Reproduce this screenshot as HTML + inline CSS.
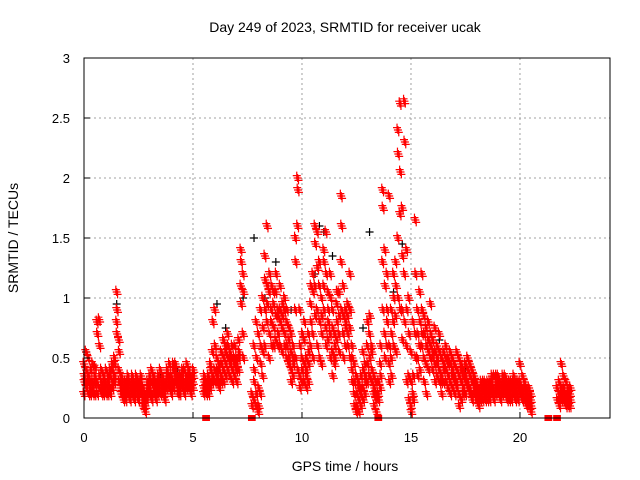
<!DOCTYPE html>
<html><head><meta charset="utf-8"><style>
body{margin:0;background:#fff}
svg{display:block;font-family:"Liberation Sans",sans-serif}
</style></head><body>
<svg id="chart" width="640" height="480">
<text x="345" y="32" font-size="14" text-anchor="middle">Day 249 of 2023, SRMTID for receiver ucak</text>
<text x="345" y="471" font-size="14" text-anchor="middle">GPS time / hours</text>
<text transform="translate(18,238) rotate(-90)" font-size="14" text-anchor="middle">SRMTID / TECUs</text>
<g id="grid"></g><g id="marks"></g><g id="axes"></g>
</svg>
<script>
const xTicks=[0,5,10,15,20];
const yTicks=[0,0.5,1,1.5,2,2.5,3];
const yTickLabels=["0","0.5","1","1.5","2","2.5","3"];
const redTimes=[0,0.1,0.2,0.3,0.4,0.5,0.6,0.7,0.8,0.9,1.0,1.1,1.2,1.3,1.4,1.5,1.6,1.7,1.8,1.9,2.0,2.1,2.2,2.3,2.4,2.5,2.6,2.7,2.8,2.9,3.0,3.1,3.2,3.3,3.4,3.5,3.6,3.7,3.8,3.9,4.0,4.1,4.2,4.3,4.4,4.5,4.6,4.7,4.8,4.9,5.0,5.5,5.6,5.7,5.8,5.9,6.0,6.1,6.2,6.3,6.4,6.5,6.6,6.7,6.8,6.9,7.0,7.1,7.2,7.3,7.7,7.8,7.9,8.0,8.1,8.2,8.3,8.4,8.5,8.6,8.7,8.8,8.9,9.0,9.1,9.2,9.3,9.4,9.5,9.6,9.7,9.8,9.9,10.0,10.1,10.2,10.3,10.4,10.5,10.6,10.7,10.8,10.9,11.0,11.1,11.2,11.3,11.4,11.5,11.6,11.7,11.8,11.9,12.0,12.1,12.2,12.3,12.4,12.5,12.6,12.7,12.8,12.9,13.0,13.1,13.2,13.3,13.4,13.5,13.6,13.7,13.8,13.9,14.0,14.1,14.2,14.3,14.4,14.5,14.6,14.7,14.8,14.9,15.0,15.1,15.2,15.3,15.4,15.5,15.6,15.7,15.8,15.9,16.0,16.1,16.2,16.3,16.4,16.5,16.6,16.7,16.8,16.9,17.0,17.1,17.2,17.3,17.4,17.5,17.6,17.7,17.8,17.9,18.0,18.1,18.2,18.3,18.4,18.5,18.6,18.7,18.8,18.9,19.0,19.1,19.2,19.3,19.4,19.5,19.6,19.7,19.8,19.9,20.0,20.1,20.2,20.3,20.4,20.5,21.3,21.7,21.8,21.9,22.0,22.1,22.2,22.3];
const redValues=[[.45,.3,.2,.35],[.4,.25,.55,.3],[.3,.2,.5,.35],[.25,.4,.2,.3],[.3,.2,.45,.25],[.35,.28,.2,.42],[.8,.7,.3,.2],[.82,.6,.25,.35],[.3,.2,.4,.25],[.25,.35,.2,.3],[.3,.2,.25,.4],[.2,.3,.25,.35],[.35,.25,.4,.2],[.4,.3,.45,.25],[.5,.35,.3,.45],[1.05,.9,.8,.7],[.65,.55,.4,.3],[.3,.2,.25,.35],[.2,.15,.25,.3],[.25,.2,.3,.15],[.3,.2,.25,.35],[.2,.25,.3,.15],[.25,.35,.2,.3],[.3,.2,.25,.15],[.35,.25,.2,.3],[.2,.3,.15,.25],[.25,.2,.3,.35],[.2,.15,.1,.25],[.15,.05,.2,.1],[.2,.3,.15,.25],[.25,.35,.2,.3],[.3,.2,.4,.15],[.35,.25,.3,.2],[.2,.15,.3,.25],[.3,.35,.2,.25],[.4,.3,.25,.2],[.3,.2,.35,.25],[.2,.15,.3,.25],[.3,.4,.25,.35],[.35,.45,.3,.25],[.3,.25,.35,.2],[.4,.3,.45,.25],[.45,.35,.3,.4],[.3,.25,.35,.2],[.2,.3,.25,.35],[.35,.4,.3,.25],[.3,.25,.4,.2],[.35,.45,.3,.25],[.3,.4,.35,.25],[.25,.3,.35,.2],[.3,.35,.25,.4],[.25,.3,.2,.35],[0,.3,.25,.2],[.3,.2,.35,.25],[.45,.3,.25,.4],[.55,.35,.3,.8],[.9,.6,.4,.3],[.5,.4,.3,.35],[.4,.3,.45,.25],[.55,.45,.35,.3],[.65,.5,.4,.3],[.6,.45,.55,.35],[.7,.5,.4,.6],[.55,.45,.35,.5],[.6,.4,.5,.3],[.5,.35,.45,.6],[.4,.3,.5,.45],[.65,.5,.4,.55],[1.4,1.3,1.1,.95],[1.2,1.05,.7,.5],[0,.1,.2],[.6,.3,.15,.4],[.8,.2,.1,.5],[.7,.25,.05,.1],[.9,.45,.2,.6],[1.0,.55,.35,.75],[1.35,.9,.6,1.15],[1.6,1.1,.8,.95],[1.05,.7,.5,1.2],[.9,1.1,.8,.6],[.95,.75,1.05,.6],[1.05,.85,.65,1.2],[.9,.7,.85,.6],[1.1,.8,.9,.6],[.75,.95,.55,.85],[.9,.7,1.0,.6],[.8,.6,.5,.9],[.65,.5,.45,.75],[.55,.4,.7,.3],[.6,.45,.35,.5],[1.5,1.3,.9,.5],[2.0,1.9,1.6,.4],[.9,.6,.35,.25],[.5,.4,.3,.7],[.65,.45,.3,.8],[.35,.25,.5,.4],[.7,.55,.3,.45],[.95,.8,.6,1.1],[1.2,1.05,.7,.5],[1.6,1.45,1.1,.85],[1.55,1.25,.9,.6],[1.1,.8,1.3,.5],[1.0,.7,.45,.85],[1.4,1.3,1.1,.9],[1.55,1.2,.75,.6],[1.05,.9,.65,.8],[1.2,1.0,.7,.5],[.9,.75,.55,.35],[.7,.5,.45,.6],[.95,.8,.65,1.05],[1.05,.85,.7,.55],[1.85,1.6,1.3,.9],[1.1,.85,.7,.5],[.9,.8,.6,.75],[.85,.7,.95,.6],[1.2,.9,.75,.5],[.6,.5,.4,.3],[.45,.3,.2,.1],[.35,.2,.05,.1],[.3,.15,.25,.05],[.25,.1,.2,.35],[.55,.4,.25,.15],[.45,.3,.2,.35],[.6,.45,.3,.8],[.7,.5,.35,.85],[.55,.4,.6,.3],[.35,.25,.2,.1],[.3,.2,.15,.05],[0,.15,.2,.3],[.45,.35,.25,.6],[1.9,1.75,1.3,.9],[1.4,1.1,.7,.5],[1.2,.9,.6,.8],[1.85,.6,.45,.3],[.9,.7,.5,.35],[1.2,1.0,.8,.6],[1.3,1.1,.85,.55],[2.4,2.2,1.5,1.0],[2.62,2.05,1.7,.9],[1.75,1.35,.9,.65],[2.64,2.3,1.2,.8],[1.4,.9,.6,.3],[1.0,.7,.35,.15],[.55,.3,.1,.05],[.8,.35,.2,.15],[1.65,1.2,.7,.5],[.9,.7,.5,.35],[1.05,.8,.6,.4],[1.2,.9,.6,.7],[.85,.7,.5,.3],[.75,.6,.45,.2],[.8,.55,.65,.4],[.95,.7,.5,.6],[.65,.5,.4,.55],[.75,.55,.45,.3],[.6,.5,.35,.45],[.7,.55,.4,.3],[.5,.35,.3,.2],[.55,.45,.3,.4],[.6,.4,.5,.3],[.5,.35,.25,.45],[.55,.45,.3,.2],[.5,.4,.35,.25],[.45,.3,.35,.2],[.55,.4,.3,.25],[.5,.35,.2,.1],[.4,.3,.45,.15],[.35,.25,.2,.4],[.45,.3,.2,.35],[.5,.4,.3,.25],[.45,.35,.25,.2],[.4,.3,.2,.15],[.35,.25,.3,.2],[.3,.2,.15,.25],[.25,.15,.2,.1],[.2,.3,.15,.25],[.25,.2,.15,.3],[.3,.2,.25,.15],[.2,.15,.25,.3],[.25,.3,.2,.15],[.3,.2,.25,.35],[.25,.35,.2,.15],[.3,.25,.2,.35],[.35,.25,.3,.2],[.3,.2,.25,.15],[.25,.35,.2,.3],[.3,.2,.25,.35],[.25,.3,.2,.15],[.2,.3,.25,.15],[.25,.2,.3,.15],[.3,.25,.2,.35],[.25,.2,.15,.3],[.2,.25,.3,.15],[.3,.2,.45,.25],[.25,.35,.2,.15],[.2,.3,.15,.25],[.25,.15,.2,.1],[.2,.1,.15,.25],[.15,.1,.2,.05],[0],[0,.15,.25],[.3,.2,.15,.1],[.45,.25,.2,.15],[.35,.2,.15,.25],[.2,.3,.15,.1],[.25,.15,.2,.1],[.2,.15,.1,.25]];
const blackTimes=[0.1,1.5,6.1,7.3,7.8,8.8,10.8,11.0,11.4,13.1,14.6,15.2,16.3,20.0,21.9,9.5,12.3,17.5,3.5,4.3,10.6,14.2,8.3,12.8,6.5];
const blackValues=[.55,.95,.95,1.0,1.5,1.3,1.6,1.55,1.35,1.55,1.45,1.2,.65,.45,.45,.9,.6,.4,.35,.4,1.2,1.05,1.0,.75,.75];

const X0=84,X1=610,Y0=418,Y1=58,XMAX=24.13,YMAX=3;
const xs=v=>X0+v/XMAX*(X1-X0);
const ys=v=>Y0-v/YMAX*(Y0-Y1);
const NS="http://www.w3.org/2000/svg";
function mk(tag,attrs,parent){const e=document.createElementNS(NS,tag);for(const k in attrs)e.setAttribute(k,attrs[k]);parent.appendChild(e);return e;}
const grid=document.getElementById('grid'),marks=document.getElementById('marks'),axes=document.getElementById('axes');
xTicks.forEach((t,i)=>{
  const x=xs(t);
  if(t>0){const g=mk('line',{x1:x,x2:x,y1:Y1,y2:Y0,stroke:'#a0a0a0','stroke-dasharray':'2,3'},grid);
  
  }
  const tk=mk('line',{x1:x,x2:x,y1:Y0,y2:Y0-6,stroke:'#000'},axes);
  
  
  const l=mk('text',{x:x,y:Y0+24,'font-size':13,'text-anchor':'middle'},axes);l.textContent=t;
  
  
});
yTicks.forEach((t,i)=>{
  const y=ys(t);
  if(t>0&&t<YMAX){const g=mk('line',{x1:X0,x2:X1,y1:y,y2:y,stroke:'#a0a0a0','stroke-dasharray':'2,3'},grid);
  
  }
  const tk=mk('line',{x1:X0,x2:X0+6,y1:y,y2:y,stroke:'#000'},axes);
  
  
  const l=mk('text',{x:X0-14,y:y+5,'font-size':13,'text-anchor':'end'},axes);l.textContent=yTickLabels[i];
  
  
});
const frame=mk('rect',{x:X0,y:Y1,width:X1-X0,height:Y0-Y1,fill:'none',stroke:'#000'},axes);


function plus(t,v,color,name){
  const x=xs(t),y=ys(v);
  let e;
  if(v===0){e=mk('rect',{x:x-3,y:y-3,width:6,height:6,fill:color},marks);}
  else e=mk('path',{d:`M${x-4},${y}H${x+4}M${x},${y-4}V${y+4}`,stroke:color,'stroke-width':1.2,fill:'none'},marks);
  
  
}
blackTimes.forEach((t,i)=>plus(t,blackValues[i],'#000','srmtid-point-black'));
const spread=[-0.04,0,0.04];
redTimes.forEach((t,i)=>redValues[i].forEach((v,j)=>{
  spread.forEach((d,k)=>{
    const dv=(k===1||v===0)?0:(k===0?0.02:-0.02);
    plus(t+d+(j%2?0.02:0),v+dv,'#ff0000','srmtid-point');
  });
}));
</script>
</body></html>
